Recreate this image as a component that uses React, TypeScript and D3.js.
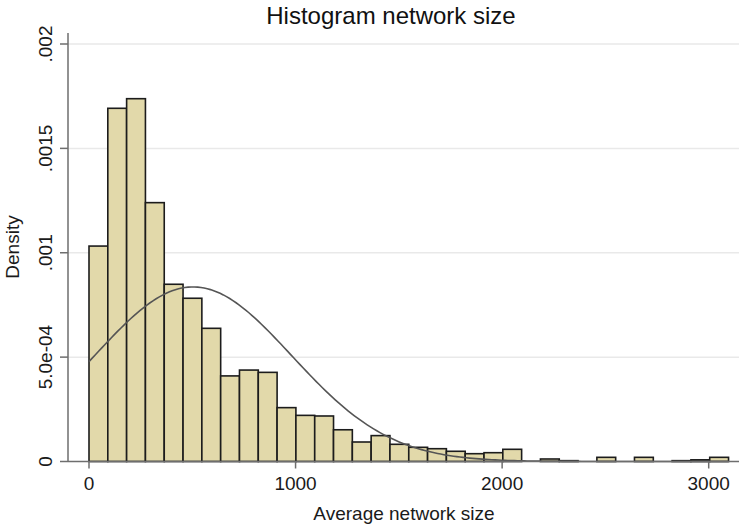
import { useEffect, useRef } from "react";
import * as d3 from "d3";

// histogram bins (density), bin width ~91 starting at 0
const binWidth = 91.06;
const densities = [
  0.001032, 0.001692, 0.001738, 0.00124, 0.000849, 0.000782, 0.000638, 0.00041,
  0.000438, 0.000427, 0.000258, 0.000221, 0.000218, 0.000152, 0.0000934, 0.000124,
  0.0000824, 0.000068, 0.0000613, 0.0000489, 0.0000374, 0.0000422, 0.0000584, 0,
  0.000012, 0.000004, 0, 0.00002, 0, 0.00002, 0, 0.000004, 0.000008, 0.00002,
];

// normal overlay parameters
const normMean = 504;
const normSd = 477;

const xTicks = [0, 1000, 2000, 3000];
const yTicks = [0, 0.0005, 0.001, 0.0015, 0.002];
const yTickLabels = ["0", "5.0e-04", ".001", ".0015", ".002"];

const W = 739;
const H = 529;
const font = "'Liberation Sans', Arial, Helvetica, sans-serif";

const Histogram = () => {
  const ref = useRef<SVGSVGElement>(null);

  useEffect(() => {
    const svg = d3.select(ref.current);
    svg.selectAll("*").remove();

    const x = d3.scaleLinear().domain([0, 3000]).range([89, 708.7]);
    const y = d3.scaleLinear().domain([0, 0.002]).range([461.5, 44]);
    const left = 68;
    const right = W;

    // grid
    svg
      .append("g")
      .selectAll("line")
      .data(yTicks.slice(1))
      .join("line")
      .attr("x1", left)
      .attr("x2", right)
      .attr("y1", (d) => y(d))
      .attr("y2", (d) => y(d))
      .attr("stroke", "#e9e9e9")
      .attr("stroke-width", 1.5);

    // bars
    const bins = densities.map((d, i) => ({ x0: i * binWidth, x1: (i + 1) * binWidth, d }));
    svg
      .append("g")
      .selectAll("rect")
      .data(bins.filter((b) => b.d > 0))
      .join("rect")
      .attr("x", (b) => x(b.x0))
      .attr("width", (b) => x(b.x1) - x(b.x0))
      .attr("y", (b) => y(b.d))
      .attr("height", (b) => y(0) - y(b.d))
      .attr("fill", "#e2d9aa")
      .attr("stroke", "#1c1c1c")
      .attr("stroke-width", 1.6);

    // normal curve
    const xmax = densities.length * binWidth;
    const pts = d3.range(0, xmax + 1, xmax / 200);
    const pdf = (v: number) =>
      Math.exp(-((v - normMean) ** 2) / (2 * normSd * normSd)) / (normSd * Math.sqrt(2 * Math.PI));
    svg
      .append("path")
      .datum(pts)
      .attr("fill", "none")
      .attr("stroke", "#555")
      .attr("stroke-width", 1.6)
      .attr(
        "d",
        d3
          .line<number>()
          .x((v) => x(v))
          .y((v) => y(pdf(v)))
      );

    // axes
    const yAxis = svg.append("g").attr("transform", `translate(${left},0)`);
    yAxis
      .append("line")
      .attr("y1", 33)
      .attr("y2", y(0))
      .attr("stroke", "#6e6e6e")
      .attr("stroke-width", 1.5);
    yAxis
      .selectAll("line.tick")
      .data(yTicks)
      .join("line")
      .attr("class", "tick")
      .attr("x1", -8)
      .attr("x2", 0)
      .attr("y1", (d) => y(d))
      .attr("y2", (d) => y(d))
      .attr("stroke", "#6e6e6e")
      .attr("stroke-width", 1.5);
    yAxis
      .selectAll("text")
      .data(yTicks)
      .join("text")
      .attr("transform", (d) => `translate(-16,${y(d)}) rotate(-90)`)
      .attr("text-anchor", "middle")
      .attr("font-family", font)
      .attr("font-size", 19)
      .attr("fill", "#1a1a1a")
      .text((_, i) => yTickLabels[i]);

    const xAxis = svg.append("g").attr("transform", `translate(0,${y(0)})`);
    xAxis
      .append("line")
      .attr("x1", left)
      .attr("x2", right)
      .attr("stroke", "#6e6e6e")
      .attr("stroke-width", 1.5);
    xAxis
      .selectAll("line.tick")
      .data(xTicks)
      .join("line")
      .attr("class", "tick")
      .attr("x1", (d) => x(d))
      .attr("x2", (d) => x(d))
      .attr("y1", 0)
      .attr("y2", 7)
      .attr("stroke", "#6e6e6e")
      .attr("stroke-width", 1.5);
    xAxis
      .selectAll("text")
      .data(xTicks)
      .join("text")
      .attr("x", (d) => x(d))
      .attr("y", 28.5)
      .attr("text-anchor", "middle")
      .attr("font-family", font)
      .attr("font-size", 19)
      .attr("fill", "#1a1a1a")
      .text((d) => d);

    // titles
    svg
      .append("text")
      .attr("x", 391)
      .attr("y", 24)
      .attr("text-anchor", "middle")
      .attr("font-family", font)
      .attr("font-size", 24)
      .attr("fill", "#111")
      .text("Histogram network size");
    svg
      .append("text")
      .attr("x", 404)
      .attr("y", 520)
      .attr("text-anchor", "middle")
      .attr("font-family", font)
      .attr("font-size", 19)
      .attr("fill", "#1a1a1a")
      .text("Average network size");
    svg
      .append("text")
      .attr("transform", "translate(19,247) rotate(-90)")
      .attr("text-anchor", "middle")
      .attr("font-family", font)
      .attr("font-size", 19)
      .attr("fill", "#1a1a1a")
      .text("Density");
  }, []);

  return (
    <svg
      ref={ref}
      width={W}
      height={H}
      style={{ position: "absolute", left: 0, top: 0, background: "#fff" }}
    />
  );
};

export default function App() {
  return <Histogram />;
}
